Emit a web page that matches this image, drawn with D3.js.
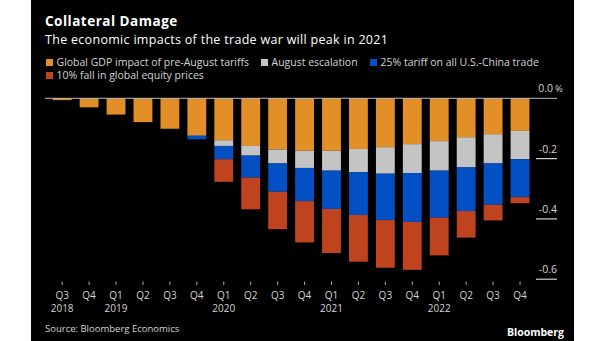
<!DOCTYPE html>
<html>
<head>
<meta charset="utf-8">
<script src="https://cdn.jsdelivr.net/npm/d3@7"></script>
<style>
  body { margin: 0; background: #fff; }
  svg { display: block; font-family: "Open Sans", Roboto, sans-serif; }
</style>
</head>
<body>
<div id="chart"></div>
<script>
var quarters = ["Q3", "Q4", "Q1", "Q2", "Q3", "Q4", "Q1", "Q2", "Q3", "Q4", "Q1", "Q2", "Q3", "Q4", "Q1", "Q2", "Q3", "Q4"];
var years = ["2018", "", "2019", "", "", "", "2020", "", "", "", "2021", "", "", "", "2022", "", "", ""];

// impacts on global GDP, percentage points
var preAugust = [-0.006, -0.030, -0.054, -0.079, -0.101, -0.122, -0.139, -0.158, -0.170, -0.174, -0.174, -0.168, -0.162, -0.152, -0.142, -0.129, -0.119, -0.108];
var augustEscalation = [0, 0, 0, 0, 0, -0.002, -0.019, -0.032, -0.046, -0.057, -0.066, -0.077, -0.088, -0.096, -0.098, -0.100, -0.097, -0.094];
var fullTariff = [0, 0, 0, 0, 0, -0.012, -0.044, -0.073, -0.094, -0.110, -0.127, -0.142, -0.154, -0.162, -0.156, -0.145, -0.137, -0.126];
var equityFall = [0, 0, 0, 0, 0, 0, -0.075, -0.105, -0.124, -0.137, -0.146, -0.155, -0.158, -0.159, -0.125, -0.088, -0.052, -0.020];

var yTicks = [0, -0.2, -0.4, -0.6];
var seriesNames = ["Global GDP impact of pre-August tariffs", "August escalation", "25% tariff on all U.S.-China trade", "10% fall in global equity prices"];
var seriesColors = ["#e38f27", "#c4c4c4", "#0250c4", "#bf431f"];

var width = 605, height = 341;

var svg = d3.select("#chart")
  .append("svg")
  .attr("width", width)
  .attr("height", height);

// black panel
svg.append("rect")
  .attr("x", 31)
  .attr("y", 0)
  .attr("width", 543)
  .attr("height", height)
  .attr("fill", "#000");

svg.append("text")
  .text("Collateral Damage")
  .attr("x", 45)
  .attr("y", 26)
  .attr("fill", "#fff")
  .attr("font-size", 13.5)
  .attr("letter-spacing", 0.5)
  .attr("font-weight", "bold");

svg.append("text")
  .text("The economic impacts of the trade war will peak in 2021")
  .attr("x", 45)
  .attr("y", 43.5)
  .attr("fill", "#fff")
  .attr("font-size", 12.5)
  .attr("letter-spacing", 0.3);

// legend
var legendPos = [[46, 59], [261, 59], [370, 59], [46, 72]];
var legend = svg.append("g").attr("class", "legend");
seriesNames.forEach(function(name, i) {
  legend.append("rect")
    .attr("x", legendPos[i][0])
    .attr("y", legendPos[i][1])
    .attr("width", 7)
    .attr("height", 7)
    .attr("fill", seriesColors[i]);
  legend.append("text")
    .text(name)
    .attr("x", legendPos[i][0] + 10.5)
    .attr("y", legendPos[i][1] + 7)
    .attr("fill", "#d4d4d4")
    .attr("font-size", 10.5);
});

var xScale = d3.scaleBand()
  .domain(d3.range(quarters.length))
  .range([48.7, 533.5])
  .paddingInner(0.3)
  .paddingOuter(0.15);

var yScale = d3.scaleLinear()
  .domain([-0.6, 0])
  .range([279.2, 98.3]);

// stack the four negative series
var rows = quarters.map(function(q, i) {
  return { i: i, s0: preAugust[i], s1: augustEscalation[i], s2: fullTariff[i], s3: equityFall[i] };
});
var stack = d3.stack()
  .keys(["s0", "s1", "s2", "s3"])
  .offset(d3.stackOffsetDiverging);
var layers = stack(rows);

svg.append("g")
  .attr("class", "bars")
  .selectAll("g")
  .data(layers)
  .enter()
  .append("g")
  .attr("fill", function(d, i) { return seriesColors[i]; })
  .selectAll("rect")
  .data(function(d) { return d; })
  .enter()
  .append("rect")
  .attr("x", function(d) { return xScale(d.data.i); })
  .attr("width", xScale.bandwidth())
  .attr("y", function(d) { return yScale(d[1]); })
  .attr("height", function(d) { return Math.abs(yScale(d[0]) - yScale(d[1])); });

// y axis: labels sit above short rules on the right
var yAxis = svg.append("g").attr("class", "y-axis");
yTicks.forEach(function(t) {
  var y = yScale(t);
  if (t === 0) {
    yAxis.append("line")
      .attr("x1", 45).attr("x2", 557)
      .attr("y1", y).attr("y2", y)
      .attr("stroke", "#b4bcc6")
      .attr("stroke-width", 1);
    yAxis.append("text")
      .text("0.0")
      .attr("x", 553)
      .attr("y", y - 6)
      .attr("text-anchor", "end")
      .attr("fill", "#d4d4d4")
      .attr("font-size", 10.5);
    yAxis.append("text")
      .text("%")
      .attr("x", 555)
      .attr("y", y - 6)
      .attr("fill", "#d4d4d4")
      .attr("font-size", 9.5);
  } else {
    yAxis.append("line")
      .attr("x1", 536).attr("x2", 557)
      .attr("y1", y).attr("y2", y)
      .attr("stroke", "#d0d0d0")
      .attr("stroke-width", 1.2);
    yAxis.append("text")
      .text(d3.format(".1f")(t).replace("−", "-"))
      .attr("x", 557)
      .attr("y", y - 6)
      .attr("text-anchor", "end")
      .attr("fill", "#d4d4d4")
      .attr("font-size", 10.5);
  }
});

// x axis
var xAxis = svg.append("g").attr("class", "x-axis");
quarters.forEach(function(q, i) {
  var cx = xScale(i) + xScale.bandwidth() / 2;
  xAxis.append("line")
    .attr("x1", cx).attr("x2", cx)
    .attr("y1", 281.5).attr("y2", 285)
    .attr("stroke", "#aaa");
  xAxis.append("text")
    .text(q)
    .attr("x", cx)
    .attr("y", 298.5)
    .attr("text-anchor", "middle")
    .attr("fill", "#d4d4d4")
    .attr("font-size", 10);
  if (years[i]) {
    xAxis.append("text")
      .text(years[i])
      .attr("x", cx)
      .attr("y", 311.5)
      .attr("text-anchor", "middle")
      .attr("fill", "#d4d4d4")
      .attr("font-size", 10);
  }
});

svg.append("text")
  .text("Source: Bloomberg Economics")
  .attr("x", 45)
  .attr("y", 332)
  .attr("fill", "#d4d4d4")
  .attr("font-size", 9.5);

svg.append("text")
  .text("Bloomberg")
  .attr("x", 564)
  .attr("y", 336)
  .attr("text-anchor", "end")
  .attr("fill", "#fff")
  .attr("font-size", 10.5)
  .attr("font-weight", "bold");
</script>
</body>
</html>
